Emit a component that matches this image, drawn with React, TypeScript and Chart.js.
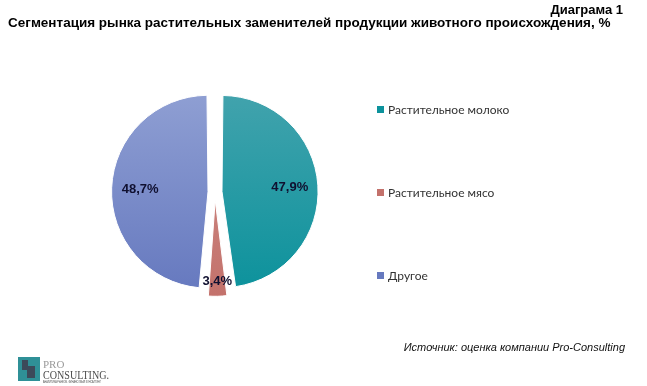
import React, { useEffect, useRef } from "react";
import { Chart, registerables } from "chart.js";

Chart.register(...registerables);

const categories = ["Растительное молоко", "Растительное мясо", "Другое"];
const shares = [47.9, 3.4, 48.7];
const valueLabels = ["47,9%", "3,4%", "48,7%"];
const colorsTop = ["#42a3ad", "#cf8f89", "#8f9fd3"];
const colorsBottom = ["#0c929c", "#c3716b", "#6679bf"];
const chartTitle = "Сегментация рынка растительных заменителей продукции животного происхождения, %";
const chartNumber = "Диаграма 1";
const sourceText = "Источник: оценка компании Pro-Consulting";

const W = 647;
const H = 386;

const overlayPlugin = {
  id: "overlay",
  afterDraw(chart: any) {
    const ctx = chart.ctx as CanvasRenderingContext2D;
    const meta = chart.getDatasetMeta(0);
    ctx.save();
    // value labels
    ctx.font = "bold 13px 'Liberation Sans', Arial, sans-serif";
    ctx.fillStyle = "#101030";
    ctx.textAlign = "center";
    ctx.textBaseline = "middle";
    meta.data.forEach((arc: any, i: number) => {
      const p = arc.getProps(["x", "y", "startAngle", "endAngle", "outerRadius"], true);
      const mid = (p.startAngle + p.endAngle) / 2;
      const off = (arc.options.offset || 0) / 4;
      const frac = shares[i] < 5 ? 0.9 : 0.755;
      const r = p.outerRadius * frac + off;
      ctx.fillText(valueLabels[i], p.x + Math.cos(mid) * r, p.y + Math.sin(mid) * r);
    });
    // legend
    ctx.font = "12px Lato, 'Open Sans', sans-serif";
    ctx.textAlign = "left";
    const legendY = [110, 193, 276];
    categories.forEach((c, i) => {
      ctx.fillStyle = colorsBottom[i];
      ctx.fillRect(377, legendY[i] - 4, 7, 7);
      ctx.fillStyle = "#333333";
      ctx.fillText(c, 388, legendY[i]);
    });
    // titles
    ctx.fillStyle = "#000000";
    ctx.font = "bold 13px 'Liberation Sans', Arial, sans-serif";
    ctx.textAlign = "right";
    ctx.textBaseline = "alphabetic";
    ctx.fillText(chartNumber, 623, 14);
    ctx.textAlign = "left";
    ctx.font = "bold 13.5px 'Liberation Sans', Arial, sans-serif";
    ctx.fillText(chartTitle, 8, 27, 605);
    // source
    ctx.font = "italic 11px 'Liberation Sans', Arial, sans-serif";
    ctx.textAlign = "right";
    ctx.fillStyle = "#111111";
    ctx.fillText(sourceText, 625, 351);
    // logo
    ctx.fillStyle = "#2f9097";
    ctx.fillRect(18, 357, 22, 24);
    ctx.fillStyle = "#3c4a5a";
    ctx.fillRect(22, 360, 6, 10);
    ctx.fillRect(27, 366, 8, 12);
    ctx.fillStyle = "#9a9a9a";
    ctx.font = "11px 'Liberation Serif', serif";
    ctx.textAlign = "left";
    ctx.fillText("PRO", 43, 368);
    ctx.fillStyle = "#4a4a4a";
    ctx.font = "13px 'Liberation Serif', serif";
    ctx.fillText("CONSULTING.", 43, 379, 66);
    ctx.font = "3px 'Liberation Sans', sans-serif";
    ctx.fillText("АНАЛИТИКА РЫНКОВ. ФИНАНСОВЫЙ КОНСАЛТИНГ", 43, 383, 58);
    ctx.restore();
  },
};

export default function App() {
  const ref = useRef<HTMLCanvasElement>(null);
  useEffect(() => {
    document.body.style.margin = "0";
    const canvas = ref.current!;
    const chart = new Chart(canvas, {
      type: "pie",
      data: {
        labels: categories,
        datasets: [
          {
            data: shares,
            backgroundColor: (c: any) => {
              const ch = c.chart;
              const area = ch.chartArea;
              if (!area) return colorsBottom[c.dataIndex];
              const cy = (area.top + area.bottom) / 2;
              const g = ch.ctx.createLinearGradient(0, cy - 100, 0, cy + 100);
              g.addColorStop(0, colorsTop[c.dataIndex]);
              g.addColorStop(1, colorsBottom[c.dataIndex]);
              return g;
            },
            borderColor: "#ffffff",
            borderWidth: 1,
            offset: [28, 32, 28],
          },
        ],
      },
      options: {
        responsive: false,
        animation: false,
        radius: 90,
        layout: { padding: { left: 10, right: 227, top: 60, bottom: 62 } },
        plugins: {
          legend: { display: false },
          tooltip: { enabled: false },
          title: { display: false },
        },
      } as any,
      plugins: [overlayPlugin],
    });
    return () => chart.destroy();
  }, []);
  return (
    <div style={{ position: "fixed", left: 0, top: 0, width: W, height: H, background: "#ffffff" }}>
      <canvas ref={ref} width={W} height={H} style={{ width: W, height: H, display: "block" }} />
    </div>
  );
}
